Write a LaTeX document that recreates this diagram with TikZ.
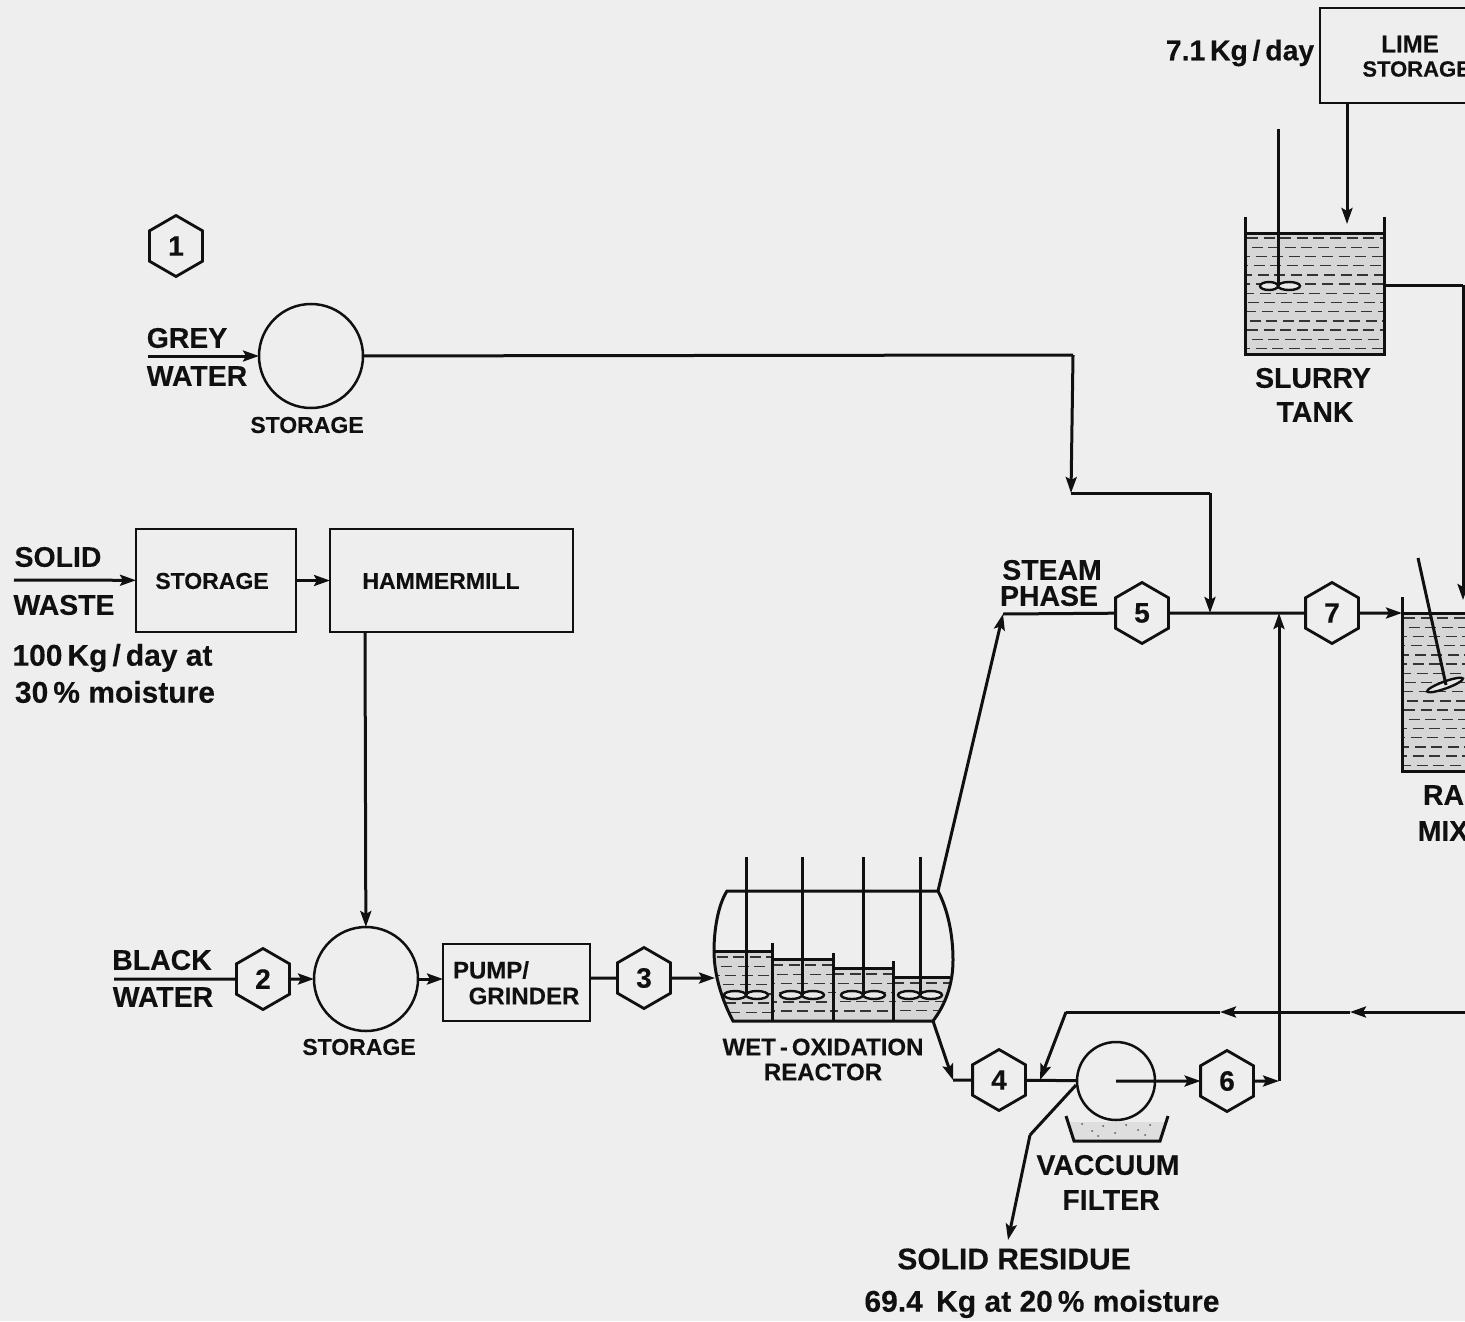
\documentclass[tikz,border=0pt]{standalone}
\usepackage{fontspec}
\setmainfont[BoldFeatures={FakeBold=0.2}]{Liberation Sans}
\usetikzlibrary{shapes.geometric, arrows.meta}
\definecolor{paper}{HTML}{EEEEEE}
\definecolor{ink}{HTML}{101010}
\definecolor{liquid}{HTML}{D6D6D6}
\definecolor{sludge}{HTML}{DEDEDE}
\newcommand{\liquidrows}[4]{%
  \pgfmathtruncatemacro{\nr}{(#4-#3)/9.2}
  \foreach \k in {0,...,\nr} {
    \pgfmathsetmacro{\r}{#3+\k*9.2}
    \pgfmathsetmacro{\ph}{mod(\k,2)*4+mod(\k*7,5)}
    \draw[dashrow, dash phase=\ph pt] (#1,\r) -- (#2,\r);
  }
}
\begin{document}
\begin{tikzpicture}[
  x=0.5pt, y=-0.5pt,
  line/.style={draw=ink, line width=1.5pt, line join=miter},
  arr/.style={line, -{Stealth[length=8pt, width=5.5pt, inset=1.5pt]}},
  hexa/.style={regular polygon, regular polygon sides=6, regular polygon rotate=30, draw=ink, line width=1.4pt, minimum size=30.5pt, inner sep=0pt, outer sep=0pt, font=\fontsize{14}{14}\bfseries, text=ink},
  vessel/.style={circle, draw=ink, line width=1.25pt, minimum size=52pt, inner sep=0pt, outer sep=0pt},
  unit/.style={rectangle, draw=ink, line width=1.4pt, inner sep=0pt, outer sep=0pt},
  big/.style={font=\fontsize{14.2}{14}\bfseries, text=ink, inner sep=0pt},
  bigger/.style={font=\fontsize{15}{15}\bfseries, text=ink, inner sep=0pt},
  small/.style={font=\fontsize{11.5}{11.5}\bfseries, text=ink, inner sep=0pt},
  mid/.style={font=\fontsize{12}{12}\bfseries, text=ink, inner sep=0pt},
  dashrow/.style={draw=ink!85, line width=0.7pt, dash pattern=on 5.5pt off 2.8pt},
  blade/.style={draw=ink, line width=1.2pt, fill=paper!80!liquid},
]
\useasboundingbox (0,0) rectangle (1465,1321);
\fill[paper] (0,0) rectangle (1465,1321);
\clip (0,0) rectangle (1465,1321);

%% Grey water
\node[hexa] (h1) at (176,246) {1};
\node[vessel] (gstor) at (311,356) {};
\node[big] (grey) at (187,338) {GREY};
\node[big] (gwater) at (197,376) {WATER};
\node[small] (gstorlab) at (307,425) {STORAGE};
\coordinate (gin) at (148,356);
\coordinate (gc1) at (1073,355);
\coordinate (gc2) at (1071,493);
\coordinate (gc3) at (1210,493);

%% Solid waste
\node[unit, minimum width=80pt, minimum height=51.5pt] (sstor) at (216,580.5) {};
\node[small] at (212,581) {STORAGE};
\node[unit, minimum width=121.5pt, minimum height=51.5pt] (mill) at (451.5,580.5) {};
\node[small] at (441,581) {HAMMERMILL};
\node[big] (solid) at (58,557) {SOLID};
\node[big] (swaste) at (64,605) {WASTE};
\node[bigger] (rate1) at (112.5,658) {100\,Kg\,/\,day at};
\node[bigger] (rate2) at (115,692) {30\,\%\ moisture};
\coordinate (sin) at (14,580);
\coordinate (millout) at (365,632);

%% Black water line
\node[hexa] (h2) at (263,979) {2};
\node[vessel] (bstor) at (366,979) {};
\node[small] (bstorlab) at (359,1047) {STORAGE};
\node[big] (black) at (162,960) {BLACK};
\node[big] (bwater) at (163,997) {WATER};
\node[unit, minimum width=73.5pt, minimum height=38.5pt] (pump) at (516.5,982.5) {};
\node[mid] at (491,970) {PUMP/};
\node[mid] at (524,996) {GRINDER};
\node[hexa] (h3) at (644,978) {3};
\coordinate (bin) at (114,979);
\coordinate (rin) at (715,978);

%% Wet-oxidation reactor
\begin{scope}
  \clip (727,891) .. controls (718,905) and (714,930) .. (714,951)
     .. controls (714,975) and (722,1000) .. (733,1021) -- (933,1021)
     .. controls (945,1005) and (953,985) .. (953,960)
     .. controls (953,935) and (948,910) .. (938,891) -- cycle;
  \fill[liquid] (700,951) -| (772,959) -| (833,968) -| (893,977) -| (960,1030) -| cycle;
  \liquidrows{700}{772}{957}{1018}
  \liquidrows{772}{833}{965}{1018}
  \liquidrows{833}{893}{974}{1018}
  \liquidrows{893}{960}{983}{1018}
\end{scope}
\draw[line] (938,891) -- (727,891) .. controls (718,905) and (714,930) .. (714,951)
     .. controls (714,975) and (722,1000) .. (733,1021) -- (933,1021)
     .. controls (945,1005) and (953,985) .. (953,960)
     .. controls (953,935) and (948,910) .. cycle;
\draw[line] (714,951) -- (772,951);
\draw[line] (772,959) -- (833,959);
\draw[line] (833,968) -- (893,968);
\draw[line] (893,977) -- (950,977);
\foreach \px/\py in {772/943,833/953,893/961} {
  \draw[line] (\px,\py) -- (\px,1021);
}
\foreach \sx in {746,802,863,920} {
  \draw[blade] (\sx-11,995) ellipse [x radius=11, y radius=4];
  \draw[blade] (\sx+11,995) ellipse [x radius=11, y radius=4];
  \draw[line] (\sx,857) -- (\sx,995);
}
\node[mid] (wet) at (823,1047) {WET\,-\,OXIDATION};
\node[mid] (reac) at (823,1072) {REACTOR};
\coordinate (rtop) at (938,891);
\coordinate (rbot) at (933,1021);
\coordinate (rc) at (953,1080);

%% Steam line
\node[hexa] (h5) at (1142,613) {5};
\node[hexa] (h7) at (1332,613) {7};
\node[big] (steam) at (1052,570) {STEAM};
\node[big] (phase) at (1049,596) {PHASE};
\coordinate (sc) at (1003,614);
\coordinate (jgrey) at (1210,613);
\coordinate (jret) at (1279,613);

%% Filter
\node[hexa] (h4) at (999,1080) {4};
\node[hexa] (h6) at (1227,1081) {6};
\node[vessel, minimum size=39pt] (filt) at (1116,1081) {};
\fill[sludge] (1070,1122) -- (1075,1141) -- (1160,1141) -- (1165,1122) -- cycle;
\foreach \dx/\dy in {1082/1124,1092/1131,1103/1126,1115/1133,1126/1125,1138/1130,1150/1125,1098/1136,1145/1135} {
  \fill[ink!70] (\dx,\dy) circle (0.5pt);
}
\draw[line] (1066,1116) -- (1074,1141) -- (1160,1141) -- (1168,1116);
\node[big] (vac) at (1108,1165) {VACCUUM};
\node[big] (filtlab) at (1111,1200) {FILTER};
\node[bigger] (resid) at (1014,1259) {SOLID RESIDUE};
\node[bigger] (resid2) at (1042,1304) {69.4\ \,Kg at 20\,\%\ moisture};
\coordinate (fc) at (1116,1081);
\coordinate (fl) at (1076,1085);
\coordinate (rb1) at (1030,1135);
\coordinate (rb2) at (1008,1240);
\coordinate (j4) at (1040,1080);
\coordinate (ret0) at (1466,1012);
\coordinate (ret1) at (1350,1012);
\coordinate (ret2) at (1220,1012);
\coordinate (ret3) at (1066,1012);
\coordinate (out6) at (1279,1081);

%% Lime and slurry
\node[unit, minimum width=100pt, minimum height=47.5pt] (lime) at (1420,55.5) {};
\node[mid] at (1410,44) {LIME};
\node[font=\fontsize{11}{11}\bfseries, text=ink, inner sep=0pt, anchor=west] at (1362,69) {STORAGE};
\node[big] (limerate) at (1240,53) {7.1\,Kg\,/\,day};
\fill[liquid] (1245,233) rectangle (1384,354);
\liquidrows{1247}{1383}{238}{352}
\draw[line] (1245,217) -- (1245,354) -- (1384,354) -- (1384,217);
\draw[line] (1245,233) -- (1384,233);
\draw[blade] (1269,286) ellipse [x radius=9, y radius=4];
\draw[blade] (1289,286) ellipse [x radius=11, y radius=4];
\draw[line] (1278,129) -- (1278,286);
\node[big] (slurry) at (1313,378) {SLURRY};
\node[big] (tank) at (1315,412) {TANK};
\coordinate (limeout) at (1347,103);
\coordinate (tankin) at (1347,224);
\coordinate (tankout) at (1384,285);
\coordinate (tc) at (1463,285);

%% Rapid mix
\fill[liquid] (1402,613) rectangle (1470,771);
\liquidrows{1404}{1470}{618}{768}
\draw[line] (1402,597) -- (1402,771) -- (1470,771);
\draw[line] (1402,613) -- (1470,613);
\draw[blade, rotate around={20:(1445,685)}] (1445,685) ellipse [x radius=19, y radius=3.5];
\draw[line] (1418,558) -- (1446,685);
\node[big] (rapid) at (1453,795) {RAP};
\node[big] (mix) at (1443,831) {MIX};
\coordinate (mixin) at (1402,613);
\coordinate (mixtop) at (1463,600);

%% Connectors
\draw[arr] (gin) -- (gstor);
\draw[line] (gstor) -- (gc1);
\draw[arr] (gc1) -- (gc2);
\draw[line] (gc2) -- (gc3);
\draw[arr] (gc3) -- (jgrey);
\draw[arr] (sin) -- (sstor);
\draw[arr] (sstor) -- (mill);
\draw[arr] (millout) -- (bstor);
\draw[line] (bin) -- (h2);
\draw[arr] (h2) -- (bstor);
\draw[arr] (bstor) -- (bstor -| pump.west);
\draw[line] (pump.east |- h3) -- (h3);
\draw[arr] (h3) -- (rin);
\draw[arr] (rtop) -- (sc);
\draw[line] (sc) -- (h5);
\draw[line] (h5) -- (h7);
\draw[arr] (h7) -- (mixin);
\draw[arr] (rbot) -- (rc);
\draw[line] (rc) -- (h4);
\draw[line] (h4) -- (filt);
\draw[arr] (fc) -- (h6);
\draw[arr] (h6) -- (out6);
\draw[arr] (out6) -- (jret);
\draw[line] (fl) -- (rb1);
\draw[arr] (rb1) -- (rb2);
\draw[arr] (ret0) -- (ret1);
\draw[arr] (ret1) -- (ret2);
\draw[line] (ret2) -- (ret3);
\draw[arr] (ret3) -- (j4);
\draw[arr] (limeout) -- (tankin);
\draw[line] (tankout) -- (tc);
\draw[arr] (tc) -- (mixtop);
\end{tikzpicture}
\end{document}
